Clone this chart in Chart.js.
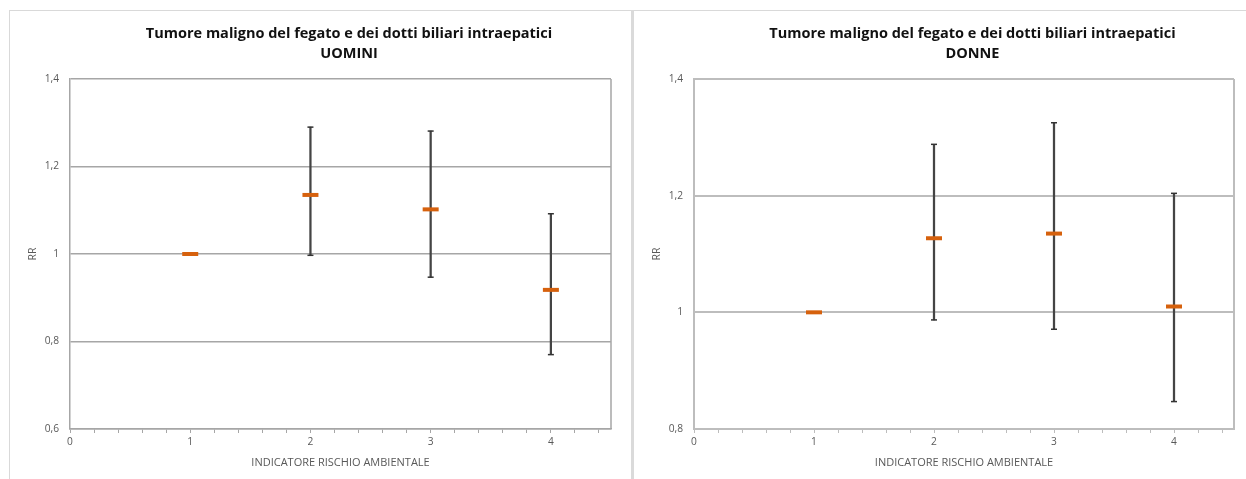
<!DOCTYPE html>
<html lang="it">
<head>
<meta charset="utf-8">
<title>Tumore maligno del fegato e dei dotti biliari intraepatici</title>
<script src="https://cdn.jsdelivr.net/npm/chart.js@4/dist/chart.umd.min.js"></script>
<style>
  html, body { margin: 0; padding: 0; background: #ffffff; }
  body { width: 1246px; height: 479px; position: relative; overflow: hidden; }
  .frame-top { position: absolute; left: 9px; top: 10px; width: 1237px; height: 1px; background: #d9d9d9; }
  .frame-left { position: absolute; left: 9px; top: 10px; width: 1px; height: 469px; background: #d9d9d9; }
  .frame-mid { position: absolute; left: 631px; top: 10px; width: 3px; height: 469px; background: #dadada; }
  canvas { position: absolute; top: 11px; }
  #uomini { left: 10px; }
  #donne { left: 634px; }
</style>
</head>
<body>
<div class="frame-top"></div>
<div class="frame-left"></div>
<div class="frame-mid"></div>
<canvas id="uomini" width="622" height="468"></canvas>
<canvas id="donne" width="612" height="468"></canvas>
<script>
// Indicatore di rischio ambientale (asse X) e tacche
const categories = [1, 2, 3, 4];
const xTicks = [0, 1, 2, 3, 4];

// UOMINI: rischio relativo e intervallo di confidenza
const rrUomini = [1.000, 1.135, 1.102, 0.918];
const loUomini = [null, 0.997, 0.947, 0.770];
const hiUomini = [null, 1.290, 1.281, 1.092];
const yTicksUomini = [0.6, 0.8, 1.0, 1.2, 1.4];

// DONNE: rischio relativo e intervallo di confidenza
const rrDonne = [1.000, 1.127, 1.135, 1.010];
const loDonne = [null, 0.987, 0.971, 0.847];
const hiDonne = [null, 1.288, 1.325, 1.204];
const yTicksDonne = [0.8, 1.0, 1.2, 1.4];

const titleMain = 'Tumore maligno del fegato e dei dotti biliari intraepatici';

const FONT = '"Open Sans", Lato, sans-serif';
Chart.defaults.font.family = FONT;
Chart.defaults.font.size = 10.2;
Chart.defaults.color = '#595959';

// Two-line chart heading drawn above the plot area
const panelTitle = {
  id: 'panelTitle',
  afterDraw(chart, args, opts) {
    const ctx = chart.ctx;
    const ca = chart.chartArea;
    const cx = (ca.left + ca.right) / 2 + opts.shift;
    ctx.save();
    ctx.font = 'bold 14.5px ' + FONT;
    ctx.fillStyle = '#111111';
    ctx.textAlign = 'center';
    ctx.textBaseline = 'alphabetic';
    opts.lines.forEach((t, i) => ctx.fillText(t, cx, opts.baseline + i * opts.lineGap));
    ctx.restore();
  }
};

// Right-hand edge of the plot frame
const plotFrame = {
  id: 'plotFrame',
  beforeDatasetsDraw(chart, args, opts) {
    const ctx = chart.ctx;
    const ca = chart.chartArea;
    ctx.save();
    ctx.strokeStyle = opts.color;
    ctx.lineWidth = opts.width;
    ctx.beginPath();
    ctx.moveTo(ca.right, ca.top);
    ctx.lineTo(ca.right, ca.bottom);
    ctx.stroke();
    ctx.restore();
  }
};

function fmtIt(v) {
  return String(Number(v.toFixed(1))).replace('.', ',');
}

function makeChart(id, subtitle, rr, lo, hi, yTicks, padRight, gridColor, gridWidth) {
  const whiskers = categories
    .map((c, i) => (lo[i] == null ? null : { x: c, y: [lo[i], hi[i]] }))
    .filter(Boolean);
  const caps = [];
  categories.forEach((c, i) => {
    if (lo[i] != null) { caps.push({ x: c, y: lo[i] }); caps.push({ x: c, y: hi[i] }); }
  });
  const points = categories.map((c, i) => ({ x: c, y: rr[i] }));

  return new Chart(document.getElementById(id), {
    type: 'scatter',
    data: {
      datasets: [
        {
          label: 'RR',
          data: points,
          order: 0,
          pointStyle: 'line',
          radius: 8,
          borderWidth: 4,
          borderColor: '#d6610d',
          backgroundColor: '#d6610d'
        },
        {
          label: 'IC',
          type: 'scatter',
          data: caps,
          order: 1,
          pointStyle: 'line',
          radius: 3,
          borderWidth: 1.5,
          borderColor: '#333333',
          backgroundColor: '#333333'
        },
        {
          label: 'IC barra',
          type: 'bar',
          data: whiskers,
          order: 2,
          barThickness: 1.6,
          backgroundColor: '#444444',
          borderWidth: 0,
          grouped: false
        }
      ]
    },
    options: {
      responsive: false,
      animation: false,
      events: [],
      layout: { padding: { top: 68, right: padRight, bottom: 0, left: 0 } },
      plugins: {
        legend: { display: false },
        tooltip: { enabled: false },
        panelTitle: { lines: [titleMain, subtitle], baseline: 26.7, lineGap: 20.6, shift: 8.5 },
        plotFrame: { color: gridColor, width: gridWidth }
      },
      scales: {
        x: {
          type: 'linear',
          min: xTicks[0],
          max: 4.5,
          offset: false,
          afterFit(s) { s.height = 50; },
          grid: {
            offset: false,
            drawOnChartArea: false,
            drawTicks: true,
            tickLength: 4,
            color: gridColor,
            lineWidth: 1
          },
          border: { display: true, color: gridColor, width: gridWidth },
          ticks: {
            stepSize: 0.2,
            maxTicksLimit: 100,
            includeBounds: false,
            autoSkip: false,
            maxRotation: 0,
            padding: 3,
            color: '#595959',
            callback(v) {
              const r = Math.round(v);
              return Math.abs(v - r) < 1e-6 && xTicks.includes(r) ? String(r) : '';
            }
          },
          title: {
            display: true,
            text: 'INDICATORE RISCHIO AMBIENTALE',
            color: '#595959',
            font: { size: 11 },
            padding: { top: 0, bottom: 9.5 }
          }
        },
        y: {
          type: 'linear',
          min: yTicks[0],
          max: yTicks[yTicks.length - 1],
          beginAtZero: false,
          afterFit(s) { s.width = 60; },
          grid: { color: gridColor, lineWidth: gridWidth, drawTicks: false },
          border: { display: true, color: gridColor, width: gridWidth },
          ticks: {
            stepSize: yTicks[1] - yTicks[0],
            padding: 11,
            color: '#595959',
            callback: (v) => fmtIt(v)
          },
          title: {
            display: true,
            text: 'RR',
            color: '#595959',
            font: { size: 10.5 },
            padding: { top: 16.5, bottom: 0 }
          }
        }
      }
    },
    plugins: [panelTitle, plotFrame]
  });
}

makeChart('uomini', 'UOMINI', rrUomini, loUomini, hiUomini, yTicksUomini, 21, '#a6a6a6', 1.5);
makeChart('donne', 'DONNE', rrDonne, loDonne, hiDonne, yTicksDonne, 10, '#bdbdbd', 2);
</script>
</body>
</html>
